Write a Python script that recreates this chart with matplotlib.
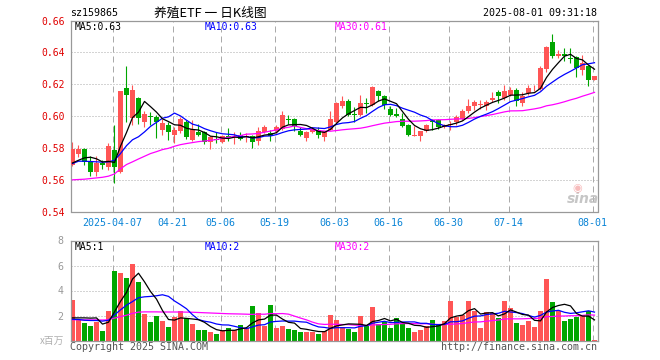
import matplotlib
matplotlib.use('Agg')
import matplotlib.pyplot as plt
import numpy as np
import pandas as pd

# ---------------- data ----------------
opens = [0.5695, 0.5764, 0.5795, 0.5710, 0.5647, 0.5705, 0.5678, 0.5785, 0.5647, 0.6176,
         0.5987, 0.6113, 0.5960, 0.6002, 0.5994, 0.5914, 0.5946, 0.5881, 0.5904, 0.5962,
         0.5852, 0.5898, 0.5898, 0.5837, 0.5856, 0.5835, 0.5877, 0.5872, 0.5881, 0.5870,
         0.5877, 0.5845, 0.5898, 0.5893, 0.5904, 0.5921, 0.5983, 0.5981, 0.5904, 0.5862,
         0.5898, 0.5914, 0.5866, 0.5914, 0.5960, 0.6065, 0.6096, 0.6010, 0.6008, 0.6082,
         0.6071, 0.6159, 0.6128, 0.6046, 0.6015, 0.5981, 0.5941, 0.5875, 0.5877, 0.5904,
         0.5973, 0.5973, 0.5929, 0.5941, 0.5960, 0.5981, 0.6029, 0.6061, 0.6069, 0.6065,
         0.6098, 0.6148, 0.6113, 0.6134, 0.6161, 0.6082, 0.6144, 0.6173, 0.6169, 0.6295,
         0.6464, 0.6374, 0.6387, 0.6366, 0.6368, 0.6291, 0.6316, 0.6228]
highs = [0.5835, 0.5820, 0.5798, 0.5747, 0.5747, 0.5722, 0.5831, 0.5946, 0.6159, 0.6316,
         0.6196, 0.6117, 0.6033, 0.6023, 0.6008, 0.5981, 0.5960, 0.5929, 0.5994, 0.5977,
         0.5977, 0.5952, 0.5904, 0.5877, 0.5898, 0.5883, 0.5925, 0.5898, 0.5900, 0.5893,
         0.5883, 0.5929, 0.5946, 0.5914, 0.5946, 0.6029, 0.6008, 0.5987, 0.5931, 0.5904,
         0.5931, 0.5931, 0.5908, 0.6029, 0.6086, 0.6123, 0.6107, 0.6056, 0.6130, 0.6113,
         0.6186, 0.6161, 0.6130, 0.6065, 0.6050, 0.6019, 0.5950, 0.5935, 0.5904, 0.5950,
         0.5981, 0.5981, 0.5950, 0.5967, 0.6008, 0.6044, 0.6107, 0.6098, 0.6098, 0.6098,
         0.6148, 0.6165, 0.6196, 0.6182, 0.6176, 0.6148, 0.6196, 0.6196, 0.6316, 0.6437,
         0.6516, 0.6416, 0.6426, 0.6426, 0.6374, 0.6385, 0.6322, 0.6249]
lows = [0.5684, 0.5743, 0.5695, 0.5622, 0.5622, 0.5668, 0.5659, 0.5576, 0.5643, 0.5960,
        0.5941, 0.5952, 0.5931, 0.5941, 0.5862, 0.5883, 0.5847, 0.5831, 0.5893, 0.5856,
        0.5845, 0.5872, 0.5827, 0.5793, 0.5831, 0.5831, 0.5845, 0.5827, 0.5847, 0.5835,
        0.5800, 0.5820, 0.5893, 0.5841, 0.5893, 0.5914, 0.5950, 0.5904, 0.5877, 0.5845,
        0.5893, 0.5862, 0.5841, 0.5910, 0.5956, 0.6050, 0.5998, 0.5960, 0.6002, 0.6019,
        0.6061, 0.6092, 0.6044, 0.5998, 0.5992, 0.5929, 0.5872, 0.5872, 0.5841, 0.5898,
        0.5914, 0.5918, 0.5925, 0.5914, 0.5946, 0.5977, 0.6019, 0.6040, 0.6044, 0.6040,
        0.6090, 0.6082, 0.6102, 0.6123, 0.6061, 0.6061, 0.6134, 0.6159, 0.6165, 0.6274,
        0.6364, 0.6364, 0.6343, 0.6332, 0.6245, 0.6259, 0.6190, 0.6228]
closes = [0.5795, 0.5795, 0.5712, 0.5649, 0.5705, 0.5695, 0.5814, 0.5678, 0.6159, 0.6134,
          0.6165, 0.5985, 0.6015, 0.5996, 0.5960, 0.5956, 0.5898, 0.5914, 0.5981, 0.5866,
          0.5918, 0.5881, 0.5835, 0.5866, 0.5847, 0.5877, 0.5868, 0.5877, 0.5856, 0.5877,
          0.5835, 0.5904, 0.5929, 0.5877, 0.5931, 0.6008, 0.5977, 0.5935, 0.5883, 0.5900,
          0.5918, 0.5879, 0.5904, 0.5981, 0.6082, 0.6096, 0.6008, 0.6004, 0.6082, 0.6073,
          0.6182, 0.6128, 0.6071, 0.6008, 0.5998, 0.5935, 0.5883, 0.5879, 0.5904, 0.5946,
          0.5960, 0.5931, 0.5944, 0.5948, 0.5994, 0.6029, 0.6065, 0.6086, 0.6075, 0.6086,
          0.6115, 0.6128, 0.6159, 0.6165, 0.6092, 0.6123, 0.6176, 0.6178, 0.6301, 0.6431,
          0.6378, 0.6389, 0.6380, 0.6360, 0.6301, 0.6332, 0.6228, 0.6249]
volumes = [3.28, 1.65, 1.44, 1.20, 1.47, 0.80, 2.40, 5.60, 5.39, 5.04,
           6.16, 4.72, 2.16, 1.52, 2.00, 1.60, 1.12, 1.92, 2.40, 1.81,
           1.36, 0.83, 0.88, 0.72, 0.56, 0.88, 1.04, 0.88, 1.28, 1.04,
           2.80, 2.24, 1.20, 2.88, 1.04, 1.20, 0.96, 0.88, 0.72, 0.72,
           0.72, 0.56, 0.80, 2.08, 1.68, 1.12, 0.96, 0.72, 2.00, 1.20,
           2.72, 1.36, 1.52, 1.04, 1.84, 1.44, 1.04, 0.72, 0.88, 1.20,
           1.68, 1.36, 1.60, 3.20, 1.92, 2.08, 3.15, 2.40, 1.04, 2.32,
           2.24, 1.84, 3.20, 2.64, 1.44, 1.28, 1.60, 1.12, 2.40, 4.96,
           3.12, 2.40, 1.60, 1.76, 1.92, 2.08, 2.40, 0.08]

# moving-average values visible before a full window exists
ma5_head = [0.5705, 0.5722, 0.5737, 0.5741]
ma10_head = [0.5701, 0.5716, 0.5716, 0.5714, 0.5712, 0.5710, 0.5712, 0.5722, 0.5764]
ma30_head = [0.5599, 0.5601, 0.5603, 0.5607, 0.5611, 0.5615, 0.5622, 0.5636, 0.5668, 0.5695,
             0.5712, 0.5730, 0.5747, 0.5764, 0.5776, 0.5789, 0.5797, 0.5810, 0.5820, 0.5827,
             0.5833, 0.5839, 0.5843, 0.5847, 0.5852, 0.5860, 0.5866, 0.5872, 0.5877]
vma5_head = [1.81, 1.81, 1.81, 1.79]
vma10_head = [1.70, 1.68, 1.62, 1.60, 1.60, 1.55, 1.62, 2.05, 2.45]
vma30_head = [1.66, 1.66, 1.65, 1.65, 1.65, 1.64, 1.66, 1.79, 1.91, 2.02,
              2.17, 2.27, 2.29, 2.29, 2.29, 2.28, 2.28, 2.28, 2.28, 2.27,
              2.26, 2.24, 2.22, 2.20, 2.18, 2.16, 2.14, 2.13, 2.12]

tick_idx = [7, 17, 25, 34, 44, 53, 63, 73, 87]
tick_labels = ['2025-04-07', '04-21', '05-06', '05-19', '06-03', '06-16', '06-30', '07-14', '08-01']
price_ticks = [0.54, 0.56, 0.58, 0.60, 0.62, 0.64, 0.66]
vol_ticks = [2, 4, 6, 8]

code = 'sz159865'
title = '养殖ETF 一 日K线图'
stamp = '2025-08-01 09:31:18'
ma_labels = ['MA5:0.63', 'MA10:0.63', 'MA30:0.61']
vma_labels = ['MA5:1', 'MA10:2', 'MA30:2']

# ---------------- helpers ----------------
def with_head(series, window, head):
    s = pd.Series(series).rolling(window).mean().to_numpy()
    s[:window - 1] = head
    return s

ma5 = with_head(closes, 5, ma5_head)
ma10 = with_head(closes, 10, ma10_head)
ma30 = with_head(closes, 30, ma30_head)
vma5 = with_head(volumes, 5, vma5_head)
vma10 = with_head(volumes, 10, vma10_head)
vma30 = with_head(volumes, 30, vma30_head)

RED = '#ff5555'
GREEN = '#00a600'
GRID = '#aaaaaa'
FRAME = '#999999'
MONO = 'DejaVu Sans Mono'

W, H = 660, 360
fig = plt.figure(figsize=(6.6, 3.6), dpi=100)
fig.patch.set_facecolor('white')

def fx(x):
    return x / W

def fy(y):
    return 1 - y / H

L, R = 70.5, 597.5
ax = fig.add_axes([fx(L), fy(211.5), (R - L) / W, (211.5 - 20.5) / H])
axv = fig.add_axes([fx(L), fy(340.5), (R - L) / W, (340.5 - 240.5) / H])

n = len(closes)
x = np.arange(n)
o = np.array(opens); c = np.array(closes)
hi = np.array(highs); lo = np.array(lows)
up = c >= o
colors = np.where(up, RED, GREEN)

for a in (ax, axv):
    a.set_xlim(-0.333, 87.5)
    for s in a.spines.values():
        s.set_color(FRAME)
        s.set_linewidth(0.9)
    for t in tick_idx:
        a.axvline(t - 0.33, color=GRID, lw=0.72, ls=(0, (6, 4)), zorder=0)

ax.set_ylim(0.54, 0.66)
for yv in price_ticks[1:-1]:
    ax.axhline(yv, color=GRID, lw=0.72, ls=(0, (1, 2)), zorder=0)
axv.set_ylim(0, 8)
for yv in vol_ticks[:-1]:
    axv.axhline(yv, color=GRID, lw=0.72, ls=(0, (1, 2)), zorder=0)

# candles
ax.vlines(x, lo, hi, colors=colors, lw=0.8, zorder=2)
body_h = np.maximum(np.abs(c - o), 0.0003)
ax.bar(x, body_h, bottom=np.minimum(o, c), width=0.83, color=colors, linewidth=0, zorder=3)

ax.plot(x, ma30, color='#ff00ff', lw=0.9, zorder=4)
ax.plot(x, ma10, color='#0000ff', lw=0.9, zorder=4)
ax.plot(x, ma5, color='#000000', lw=0.9, zorder=4)

# volume
axv.bar(x, volumes, width=0.83, color=colors, linewidth=0, zorder=2)
axv.plot(x, vma30, color='#ff00ff', lw=0.9, zorder=4)
axv.plot(x, vma10, color='#0000ff', lw=0.9, zorder=4)
axv.plot(x, vma5, color='#000000', lw=0.9, zorder=4)

# ticks
ax.set_yticks(price_ticks)
ax.set_yticklabels(['%.2f' % v for v in price_ticks], color='#e00000', fontsize=7, family=MONO)
ax.set_xticks([t - 0.33 for t in tick_idx])
ax.set_xticklabels(tick_labels, color='#0a84d6', fontsize=7.2, family=MONO)
ax.tick_params(length=0, pad=4)
ax.tick_params(axis='x', pad=5)

axv.set_yticks(vol_ticks)
axv.set_yticklabels([str(v) for v in vol_ticks], color='#999999', fontsize=7.2, family=MONO)
axv.set_xticks([])
axv.tick_params(length=0, pad=5)

# texts
fig.text(fx(70), fy(13), code, fontsize=7.2, family=MONO, ha='left', va='center', color='black')
fig.text(fx(210), fy(13), title, fontsize=9.2, family=['Noto Sans CJK SC', 'DejaVu Sans'],
         ha='center', va='center', color='black')
fig.text(fx(597), fy(13), stamp, fontsize=7.2, family=MONO, ha='right', va='center', color='black')

for lab, xp, col in zip(ma_labels, [75, 205, 335], ['black', '#0000ff', '#ff00ff']):
    fig.text(fx(xp), fy(26.5), lab, fontsize=7, family=MONO, ha='left', va='center', color=col)
for lab, xp, col in zip(vma_labels, [75, 205, 335], ['black', '#0000ff', '#ff00ff']):
    fig.text(fx(xp), fy(247), lab, fontsize=7, family=MONO, ha='left', va='center', color=col)

fig.text(fx(64), fy(340.5), 'x百万', fontsize=7, family=['Noto Sans CJK SC', 'DejaVu Sans'],
         ha='right', va='center', color='#b0b0b0')
fig.text(fx(70), fy(346.5), 'Copyright 2025 SINA.COM', fontsize=7.2, family=MONO,
         ha='left', va='center', color='#555555')
fig.text(fx(597), fy(346.5), 'http://finance.sina.com.cn', fontsize=7.2, family=MONO,
         ha='right', va='center', color='#555555')

# watermark
fig.text(fx(583), fy(199), 'sina', fontsize=10, family='DejaVu Sans', style='italic',
         weight='bold', ha='center', va='center', color='#b8b8b8', alpha=0.8)
fig.text(fx(577), fy(188), '◉', fontsize=8, family='DejaVu Sans', ha='center', va='center',
         color='#f4a0a0', alpha=0.7)

fig.savefig('out.png', dpi=100)
